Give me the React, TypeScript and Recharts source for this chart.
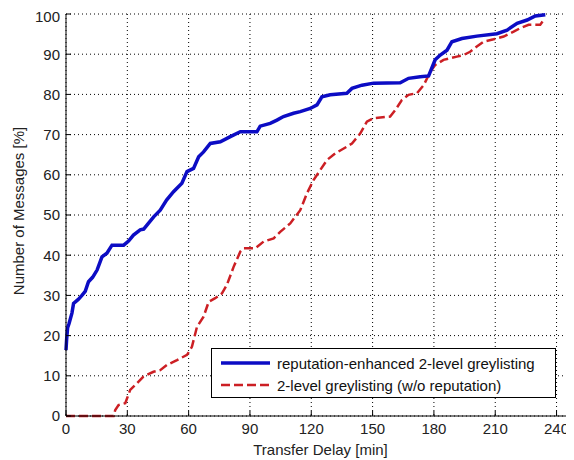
import React from "react"
import { LineChart, Line, XAxis, YAxis, CartesianGrid, Legend } from "recharts"

// transfer delay [min] vs. cumulative share of messages [%]
const repDelay = [0, 0.3, 0.8, 1.5, 2.9, 3.7, 6, 7.8, 9.4, 11, 13, 15.2, 17.6, 20, 22.5, 28.2, 30.6, 33, 36.3, 38, 40.4, 43, 46.1, 49.2, 52.6, 56.7, 59.2, 62.4, 64.9, 67.3, 70.6, 75.5, 80.4, 85.3, 93.4, 95, 99.9, 103.2, 106.4, 111.3, 114.6, 119.5, 122.8, 125.2, 129.3, 137.4, 139.9, 144.8, 150.5, 163.5, 167.6, 173.3, 177.4, 180.6, 183.1, 186.4, 188.8, 193.7, 201, 210.8, 215.8, 220.7, 225.6, 229.6, 234.5]
const repShare = [16.4, 19, 22, 23, 25.6, 28, 29, 30, 31, 33.4, 34.5, 36.3, 39.6, 40.5, 42.5, 42.5, 43.5, 45, 46.3, 46.5, 48, 49.6, 51.2, 53.7, 55.8, 57.9, 60.8, 61.6, 64.5, 65.7, 67.8, 68.2, 69.5, 70.7, 70.7, 72.1, 72.8, 73.6, 74.5, 75.3, 75.7, 76.5, 77.4, 79.4, 79.9, 80.3, 81.5, 82.3, 82.8, 82.9, 84, 84.4, 84.6, 88.6, 89.8, 91, 93.1, 93.9, 94.5, 95.1, 96, 97.7, 98.5, 99.5, 99.8]

const plainDelay = [0, 23.3, 24.1, 25.7, 29, 31.4, 34.6, 37.9, 42.8, 46.1, 49.4, 54.3, 59.2, 61.6, 64.1, 67.3, 69.8, 73, 76.3, 78.7, 82, 85.3, 86.9, 92.6, 96.7, 101.6, 104.8, 109.7, 114.6, 117.9, 121.1, 124.4, 127.7, 131.7, 137.4, 139.9, 144, 147.2, 150.5, 158.6, 161.1, 164.3, 167.6, 171.7, 175, 178.2, 180.6, 184.7, 191.2, 194.5, 197.7, 201, 204.3, 209.2, 214.1, 219, 222.3, 226.3, 232, 234]
const plainShare = [0, 0, 1.5, 2.7, 3.2, 6.5, 8.1, 9.8, 11, 11.4, 12.7, 13.9, 15.2, 17.2, 22.2, 24.7, 28.4, 29.3, 30.5, 32.6, 37.1, 40.9, 41.7, 41.7, 43.4, 44.2, 45.8, 47.9, 51.2, 55.4, 58.7, 61.2, 63.7, 65.3, 67, 67.8, 70.3, 73.2, 74.1, 74.5, 76.1, 78.6, 79.9, 80.3, 82.3, 85.6, 87.3, 88.6, 89.4, 89.8, 90.6, 91.9, 93.1, 93.7, 94.4, 95.6, 96.5, 97.3, 97.3, 98.8]

const xTicks = [0, 30, 60, 90, 120, 150, 180, 210, 240]
const yTicks = [0, 10, 20, 30, 40, 50, 60, 70, 80, 90, 100]

const seriesNames = ["reputation-enhanced 2-level greylisting", "2-level greylisting (w/o reputation)"]

const BLUE = "#0c0cc4"
const RED = "#cc1f24"
const FONT = "'Liberation Sans', Arial, sans-serif"
const TXT = { fill: "#222", fontSize: 15, fontFamily: FONT }

const repData = repDelay.map((d, i) => ({ delay: d, share: repShare[i] }))
const plainData = plainDelay.map((d, i) => ({ delay: d, share: plainShare[i] }))

function LegendBox() {
  return (
    <div
      style={{
        width: 345,
        height: 50,
        boxSizing: "border-box",
        border: "1px solid #000",
        background: "#fff",
        fontFamily: FONT,
        fontSize: 15,
        color: "#111",
        position: "relative",
      }}
    >
      {seriesNames.map((name, i) => (
        <div key={name} style={{ position: "absolute", left: 0, top: i === 0 ? 4 : 26, height: 20, display: "flex", alignItems: "center" }}>
          <svg width={65} height={20} style={{ display: "block" }}>
            <line
              x1={9}
              x2={58}
              y1={10}
              y2={10}
              stroke={i === 0 ? BLUE : RED}
              strokeWidth={i === 0 ? 3.5 : 2.5}
              strokeDasharray={i === 0 ? undefined : "9 4"}
            />
          </svg>
          <span style={{ whiteSpace: "nowrap" }}>{name}</span>
        </div>
      ))}
    </div>
  )
}

export default function App() {
  return (
    <div style={{ width: 566, height: 452, overflow: "hidden", position: "relative" }}>
      <LineChart width={600} height={452} margin={{ top: 6, right: 31, left: 0, bottom: 0 }}>
        <CartesianGrid stroke="#000" strokeDasharray="1 3" />
        <XAxis
          type="number"
          dataKey="delay"
          domain={[0, 250]}
          ticks={xTicks}
          height={44}
          tickSize={5}
          tickMargin={2}
          tickLine={{ stroke: "#000", transform: "translate(0,-5)" }}
          stroke="#000"
          tick={TXT}
          label={{ value: "Transfer Delay [min]", position: "center", dx: -1, dy: 12, ...TXT }}
        />
        <XAxis
          xAxisId="top"
          orientation="top"
          type="number"
          dataKey="delay"
          domain={[0, 250]}
          ticks={xTicks}
          height={0}
          tickSize={5}
          tick={false}
          tickLine={{ stroke: "#000", transform: "translate(0,5)" }}
          stroke="#000"
        />
        <YAxis
          type="number"
          domain={[0, 100]}
          ticks={yTicks}
          width={58}
          tickSize={5}
          tickMargin={1}
          tickLine={{ stroke: "#000", transform: "translate(5,0)" }}
          stroke="#000"
          tick={TXT}
          label={{ value: "Number of Messages [%]", angle: -90, position: "center", dx: -18, dy: -4, ...TXT }}
        />
        <Legend
          layout="horizontal"
          align="center"
          verticalAlign="middle"
          wrapperStyle={{ left: 203, top: 340, width: 345, height: 50 }}
          content={() => <LegendBox />}
        />
        <Line
          data={plainData}
          dataKey="share"
          name={seriesNames[1]}
          type="linear"
          stroke={RED}
          strokeWidth={2.5}
          strokeDasharray="9 4"
          dot={false}
          isAnimationActive={false}
        />
        <Line
          data={repData}
          dataKey="share"
          name={seriesNames[0]}
          type="linear"
          stroke={BLUE}
          strokeWidth={3.5}
          dot={false}
          isAnimationActive={false}
        />
      </LineChart>
    </div>
  )
}
